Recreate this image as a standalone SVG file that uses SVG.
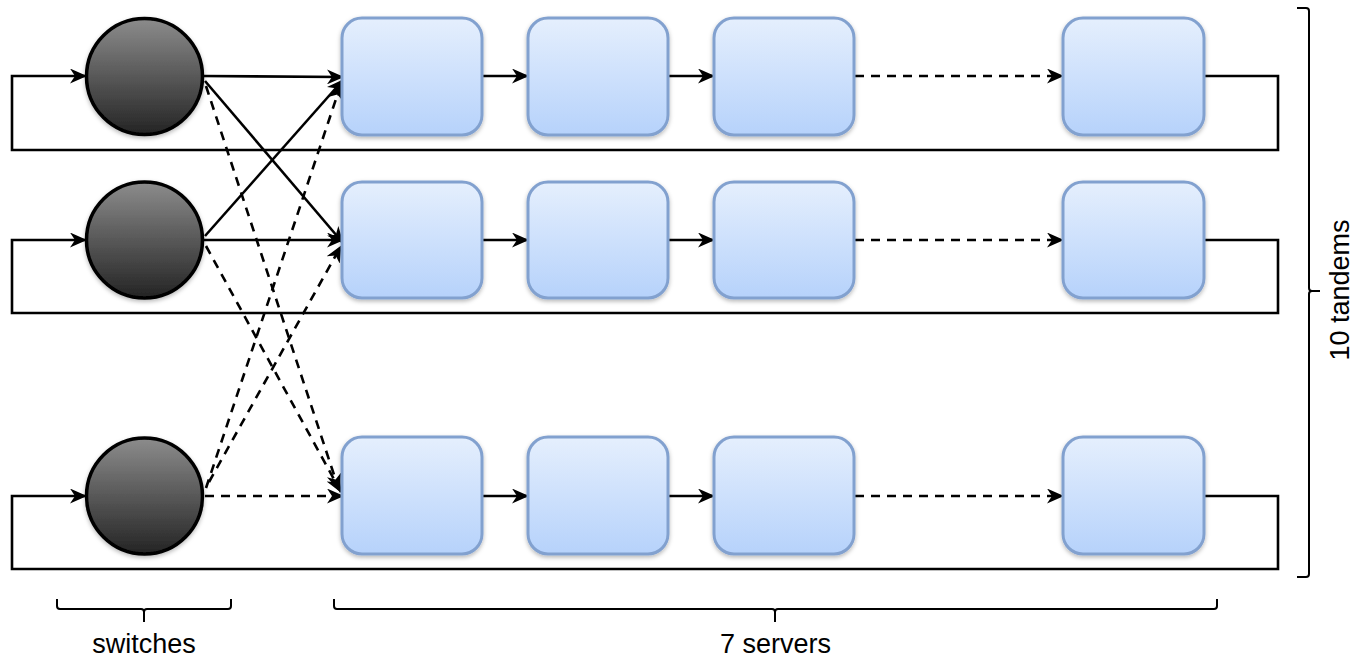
<svg xmlns="http://www.w3.org/2000/svg" width="1354" height="658" viewBox="0 0 1354 658">
  <defs>
    <linearGradient id="serverFill" x1="0" y1="0" x2="0" y2="1">
      <stop offset="0" stop-color="#e5effd"/>
      <stop offset="1" stop-color="#b6d2fb"/>
    </linearGradient>
    <linearGradient id="switchFill" x1="0" y1="0" x2="0" y2="1">
      <stop offset="0" stop-color="#8c8c8c"/>
      <stop offset="1" stop-color="#242424"/>
    </linearGradient>
    <filter id="shadow" x="-20%" y="-20%" width="140%" height="150%">
      <feDropShadow dx="0" dy="2" stdDeviation="2" flood-color="#000" flood-opacity="0.28"/>
    </filter>
    <marker id="arrow" markerUnits="userSpaceOnUse" viewBox="0 0 17 15" refX="16" refY="7.5" markerWidth="17" markerHeight="15" orient="auto">
      <path d="M0,0 L17,7.5 L0,15 L5,7.5 Z" fill="#000"/>
    </marker>
  </defs>
  <style>
    .server { fill: url(#serverFill); stroke: #82a1cf; stroke-width: 3; filter: url(#shadow); }
    .switch { fill: url(#switchFill); stroke: #000; stroke-width: 3.5; filter: url(#shadow); }
    .line { fill: none; stroke: #000; stroke-width: 2.6; }
    .arr { marker-end: url(#arrow); }
    .dash { stroke-dasharray: 9 7; }
    .brace { fill: none; stroke: #000; stroke-width: 2; }
    .label { font-family: "Liberation Sans", Arial, sans-serif; font-size: 27px; fill: #000; }
  </style>

  <!-- feedback loops and in-tandem links -->
  <g id="connectors">
    <!-- row 1 -->
    <polyline class="line" points="1204,76 1278,76 1278,150 12,150 12,76 86,76" marker-end="url(#arrow)"/>
    <line class="line arr" x1="482" y1="76" x2="528" y2="76"/>
    <line class="line arr" x1="668" y1="76" x2="714" y2="76"/>
    <line class="line arr dash" x1="855" y1="76" x2="1063" y2="76"/>
    <!-- row 2 -->
    <polyline class="line" points="1204,240 1278,240 1278,313 12,313 12,240 86,240" marker-end="url(#arrow)"/>
    <line class="line arr" x1="482" y1="240" x2="528" y2="240"/>
    <line class="line arr" x1="668" y1="240" x2="714" y2="240"/>
    <line class="line arr dash" x1="855" y1="240" x2="1063" y2="240"/>
    <!-- row 3 -->
    <polyline class="line" points="1204,496 1278,496 1278,569 12,569 12,496 86,496" marker-end="url(#arrow)"/>
    <line class="line arr" x1="482" y1="496" x2="528" y2="496"/>
    <line class="line arr" x1="668" y1="496" x2="714" y2="496"/>
    <line class="line arr dash" x1="855" y1="496" x2="1063" y2="496"/>

    <!-- switch routing -->
    <line class="line arr" x1="203" y1="76" x2="343" y2="77"/>
    <line class="line arr" x1="205" y1="81" x2="343" y2="243"/>
    <line class="line arr" x1="205" y1="236" x2="343" y2="80"/>
    <line class="line arr" x1="203" y1="240" x2="343" y2="240"/>
    <line class="line arr dash" x1="206" y1="86" x2="339" y2="490"/>
    <line class="line arr dash" x1="206" y1="246" x2="341" y2="492"/>
    <line class="line arr dash" x1="206" y1="488" x2="341" y2="84"/>
    <line class="line arr dash" x1="209" y1="482" x2="341" y2="246"/>
    <line class="line arr dash" x1="205" y1="496" x2="343" y2="496"/>
  </g>

  <!-- switches -->
  <g id="switch-1"><circle class="switch" cx="144.5" cy="76.5" r="58"/></g>
  <g id="switch-2"><circle class="switch" cx="144.5" cy="240" r="58"/></g>
  <g id="switch-3"><circle class="switch" cx="144.5" cy="496" r="58"/></g>

  <!-- servers, row 1 -->
  <g id="server-1-1"><rect class="server" x="342" y="18" width="140" height="117" rx="20"/></g>
  <g id="server-1-2"><rect class="server" x="528" y="18" width="140" height="117" rx="20"/></g>
  <g id="server-1-3"><rect class="server" x="714" y="18" width="140" height="117" rx="20"/></g>
  <g id="server-1-7"><rect class="server" x="1063" y="18" width="141" height="117" rx="20"/></g>
  <!-- servers, row 2 -->
  <g id="server-2-1"><rect class="server" x="342" y="182" width="140" height="116" rx="20"/></g>
  <g id="server-2-2"><rect class="server" x="528" y="182" width="140" height="116" rx="20"/></g>
  <g id="server-2-3"><rect class="server" x="714" y="182" width="140" height="116" rx="20"/></g>
  <g id="server-2-7"><rect class="server" x="1063" y="182" width="141" height="116" rx="20"/></g>
  <!-- servers, row 3 -->
  <g id="server-3-1"><rect class="server" x="342" y="437" width="140" height="117" rx="20"/></g>
  <g id="server-3-2"><rect class="server" x="528" y="437" width="140" height="117" rx="20"/></g>
  <g id="server-3-3"><rect class="server" x="714" y="437" width="140" height="117" rx="20"/></g>
  <g id="server-3-7"><rect class="server" x="1063" y="437" width="141" height="117" rx="20"/></g>

  <!-- braces and labels -->
  <g id="brace-switches">
    <path class="brace" d="M57,599 V606 Q57,609 60,609 H141 Q144,609 144,612 V622 M144,612 Q144,609 147,609 H228 Q231,609 231,606 V599"/>
    <text class="label" x="144" y="653" text-anchor="middle">switches</text>
  </g>
  <g id="brace-servers">
    <path class="brace" d="M334,599 V606 Q334,609 337,609 H772 Q775,609 775,612 V622 M775,612 Q775,609 778,609 H1214 Q1217,609 1217,606 V599"/>
    <text class="label" x="775.5" y="653" text-anchor="middle">7 servers</text>
  </g>
  <g id="brace-tandems">
    <path class="brace" d="M1297,8 H1306 Q1309,8 1309,11 V288 Q1309,291 1312,291 H1320 M1312,291 Q1309,291 1309,294 V574 Q1309,577 1306,577 H1297"/>
    <text class="label" transform="translate(1349,290) rotate(-90)" text-anchor="middle">10 tandems</text>
  </g>
</svg>
